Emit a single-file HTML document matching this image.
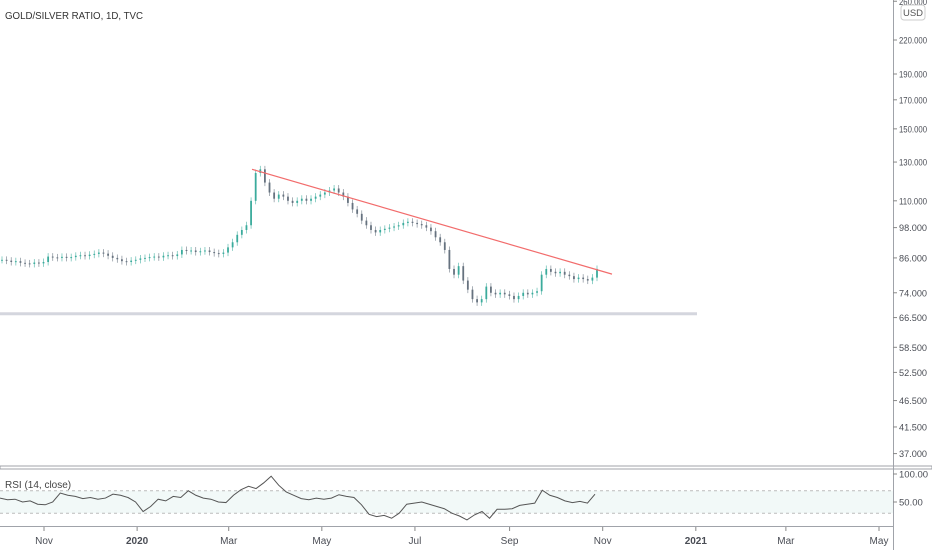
<!DOCTYPE html>
<html><head><meta charset="utf-8"><style>
body{margin:0;background:#fff;font-family:"Liberation Sans",sans-serif}
svg text{font-family:"Liberation Sans",sans-serif}
</style></head><body>
<svg id="c" width="932" height="550" viewBox="0 0 932 550">
<rect width="932" height="550" fill="#fff"/>
<g id="main"></g>
</svg>
<script>
const closes=[85.3,85,84.5,84.8,84.2,84,83.8,84.3,84,84.5,
86.5,86.2,86,86.4,86,86.3,86.8,87,86.7,87.2,87.5,
88,87.6,86.8,86,85.5,84.8,84.5,85,85.3,
85.8,86,86.3,86.5,86.2,86.8,87,86.7,87.3,89,
88.6,88.8,88.2,88.5,88.8,88.2,87.8,87.5,88,
90,92,95,97,99,110,
124,126,119,
114,111,113,112,110,109,110,111,110,
111,112,113,114,115,116,114,112,109,
106,104,101,99,97,96,97,97.5,98,
98.5,99,100,100.5,100,99.5,99,98,96.5,
94,92,89,82,80,83,78,75,72,
71,72,76,74,73.5,74,73.5,73,72,
73,74,73.5,74,74.5,80,
82,81,80.5,81,80,79.5,78.5,79,78.5,78,79,82];
const rsiValues=[57,54,55,50,52,46,45,50,66,62,60,56,58,55,57,64,62,58,50,33,42,55,52,60,58,70,62,57,55,50,49,62,72,78,74,84,96,80,68,62,56,54,57,55,57,63,60,58,45,28,24,26,21,30,46,48,50,46,42,38,30,25,18,27,33,21,37,37,38,44,46,48,71,62,58,52,49,51,48,64];
const priceTicks=[260,220,190,170,150,130,110,98,86,74,66.5,58.5,52.5,46.5,41.5,37];
const rsiTicks=[100,50];
const timeLabels=["Nov","2020","Mar","May","Jul","Sep","Nov","2021","Mar","May"];
const timeDays=[0,61,121,182,243,305,366,427,486,547];
const trendLine=[126,80.2];
const supportLevel=67.6;

const NS="http://www.w3.org/2000/svg";
const g=document.getElementById('main');
function el(t,a,p){const e=document.createElementNS(NS,t);for(const k in a)e.setAttribute(k,a[k]);(p||g).appendChild(e);return e;}
const yP=v=>40+(Math.log(220)-Math.log(v))*232;
const xBar=i=>2+i*(595/(closes.length-1));
const yR=v=>502-(v-50)*0.56;
const xR=i=>i*(595/(rsiValues.length-1));
const xDay=d=>44+d*(835/547);

let e=el('rect',{x:0,y:yR(70),width:893,height:yR(30)-yR(70),fill:'#f2f9f8'});


[70,30].forEach(v=>{let l=el('line',{x1:0,x2:893,y1:yR(v),y2:yR(v),stroke:'#bbb','stroke-dasharray':'3 3'});

});

e=el('rect',{x:0,y:yP(supportLevel)-1.5,width:697,height:3,fill:'#d4d6de'});



closes.forEach((c,i)=>{
  const o=i?closes[i-1]:c;
  const up=c>=o;const col=up?'#3bab9c':'#66727f';
  const x=xBar(i);
  const hi=Math.max(o,c)*1.015, lo=Math.min(o,c)*0.985;
  const w=el('line',{x1:x,x2:x,y1:yP(hi),y2:yP(lo),stroke:col,'stroke-width':0.7,opacity:0.8});
  
  
  const t=Math.min(yP(o),yP(c)),h=Math.max(1,Math.abs(yP(o)-yP(c)));
  const b=el('rect',{x:x-0.9,y:t,width:1.8,height:h,fill:col});
  
  
});

e=el('line',{x1:252,x2:612,y1:yP(trendLine[0]),y2:yP(trendLine[1]),stroke:'#f26c6c','stroke-width':1.2});



e=el('polyline',{points:rsiValues.map((v,i)=>xR(i)+','+yR(v)).join(' '),fill:'none',stroke:'#555','stroke-width':1});



e=el('rect',{x:0,y:466,width:932,height:3,fill:'#fff',stroke:'#8a8d95','stroke-width':0.8});


e=el('line',{x1:893.5,x2:893.5,y1:0,y2:550,stroke:'#a0a3aa'});


e=el('line',{x1:0,x2:893,y1:526.5,y2:526.5,stroke:'#a0a3aa'});



priceTicks.forEach(v=>{
  const y=yP(v);
  const tk=el('line',{x1:893,x2:897,y1:y,y2:y,stroke:'#888'});
  
  
  const t=el('text',{x:899,y:y+3.5,'font-size':9.5,fill:'#4a4d55',textLength:28,lengthAdjust:'spacingAndGlyphs'});
  t.textContent=v.toFixed(3);
  
  
});
rsiTicks.forEach(v=>{
  const y=yR(v);
  const tk=el('line',{x1:893,x2:897,y1:y,y2:y,stroke:'#888'});
  
  
  const t=el('text',{x:899,y:y+3.5,'font-size':9.5,fill:'#4a4d55'});
  t.textContent=v.toFixed(2);
  
  
});
timeLabels.forEach((s,i)=>{
  const x=xDay(timeDays[i]);
  const tk=el('line',{x1:x,x2:x,y1:527,y2:531,stroke:'#888'});
  
  
  const t=el('text',{x:x,y:544,'font-size':10,fill:'#4a4d55','text-anchor':'middle','font-weight':(s==='2020'||s==='2021')?'bold':'normal'});
  t.textContent=s;
  
  
});

e=el('text',{x:5,y:19,'font-size':10,fill:'#333',textLength:138,lengthAdjust:'spacingAndGlyphs'});
e.textContent='GOLD/SILVER RATIO, 1D, TVC';


e=el('text',{x:5,y:488,'font-size':10,fill:'#444'});
e.textContent='RSI (14, close)';


e=el('rect',{x:901,y:5,width:24,height:15,rx:3,fill:'#fff',stroke:'#ccc'});


e=el('text',{x:913,y:16,'font-size':9.5,fill:'#555','text-anchor':'middle'});
e.textContent='USD';


</script>
</body></html>
